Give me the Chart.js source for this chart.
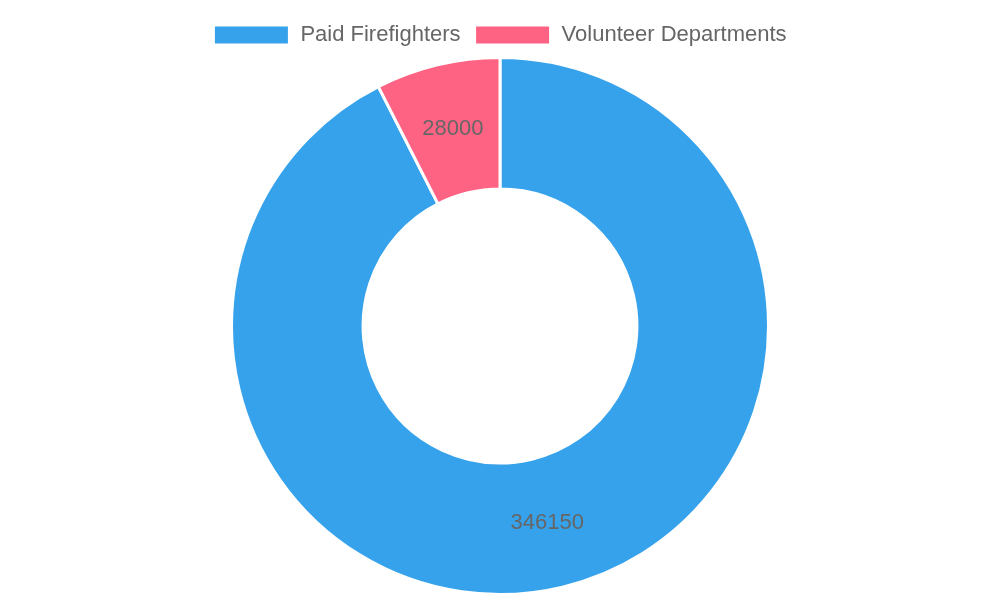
<!DOCTYPE html>
<html>
<head>
<meta charset="utf-8">
<script src="https://cdn.jsdelivr.net/npm/chart.js@4"></script>
<style>
  body { margin: 0; background: #fff; }
  #wrap { width: 1000px; height: 600px; }
</style>
</head>
<body>
<div id="wrap"><canvas id="myChart"></canvas></div>
<script>
const labels = ['Paid Firefighters', 'Volunteer Departments'];
const values = [346150, 28000];
const colors = ['#36A2EB', '#FF6384'];

// draw the value in the middle of each slice
const sliceLabels = {
  id: 'sliceLabels',
  afterDatasetsDraw(chart) {
    const c = chart.ctx;
    const meta = chart.getDatasetMeta(0);
    c.save();
    c.font = '22px "Liberation Sans", Arial, sans-serif';
    c.fillStyle = '#666';
    c.textAlign = 'center';
    c.textBaseline = 'middle';
    meta.data.forEach((arc, i) => {
      const p = arc.tooltipPosition();
      c.fillText(values[i], p.x, p.y);
    });
    c.restore();
  }
};

new Chart(document.getElementById('myChart'), {
  type: 'doughnut',
  data: {
    labels: labels,
    datasets: [{
      data: values,
      backgroundColor: colors,
      borderColor: '#fff',
      borderWidth: 3
    }]
  },
  options: {
    responsive: true,
    maintainAspectRatio: false,
    animation: false,
    cutout: '51%',
    layout: { padding: { top: 10, bottom: 4 } },
    plugins: {
      legend: {
        position: 'top',
        labels: {
          font: { size: 22, family: '"Liberation Sans", Arial, sans-serif' },
          color: '#666',
          boxWidth: 76,
          boxHeight: 20,
          padding: 14
        }
      },
      tooltip: { enabled: false }
    }
  },
  plugins: [sliceLabels]
});
</script>
</body>
</html>
